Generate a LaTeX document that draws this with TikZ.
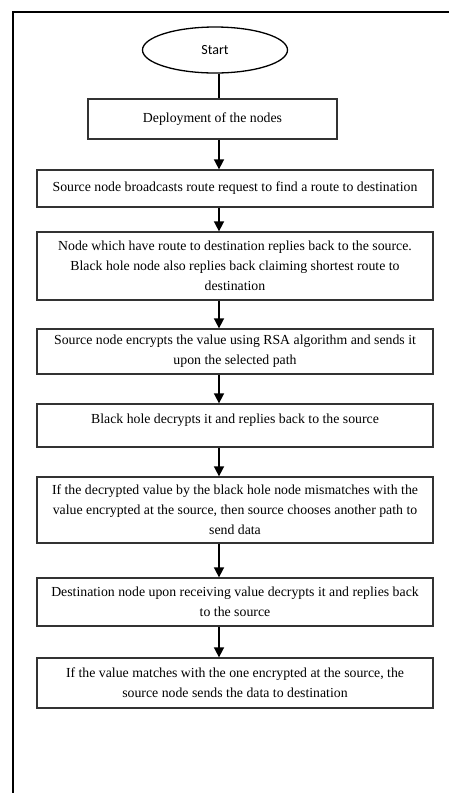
\documentclass[tikz,border=0pt]{standalone}
\usepackage{fontspec}
\setmainfont{Liberation Serif}
\newfontfamily\startfont{Carlito}
\usetikzlibrary{arrows.meta, shapes.geometric}

\begin{document}
\begin{tikzpicture}[
  x=1pt, y=-1pt,
  every node/.style={inner sep=0pt, font=\fontsize{13.8}{20}\selectfont},
  frame/.style={line width=2.2pt, black},
  terminal/.style={draw, ellipse, line width=1.3pt, minimum width=145pt, minimum height=46pt, font=\startfont\fontsize{14}{16}\selectfont},
  stepbox/.style={draw=black!80, line width=1.3pt, rectangle, align=center, minimum width=396pt},
  arr/.style={-{Triangle[length=10pt, width=10pt]}, line width=1.6pt},
  link/.style={line width=1.6pt}
]
\useasboundingbox (0,0) rectangle (449,793);
\draw[frame] (13,793) -- (13,12) -- (449,12);

\coordinate (spine) at (219,0);

\node[terminal] (start) at (215,50) {Start};
\node[stepbox, minimum width=249pt, minimum height=40pt] (b1) at (212.5,119) {Deployment of the nodes};
\node[stepbox, minimum height=37pt] (b2) at (235,188.5)
  {Source node broadcasts route request to find a route to destination};
\node[stepbox, minimum height=68pt] (b3) at (235,266)
  {Node which have route to destination replies back to the source.\\
   Black hole node also replies back claiming shortest route to\\
   destination};
\node[stepbox, minimum height=45pt] (b4) at (235,351.5)
  {Source node encrypts the value using RSA algorithm and sends it\\
   upon the selected path};
\node[stepbox, minimum height=43pt, text depth=14pt] (b5) at (235,425.5)
  {Black hole decrypts it and replies back to the source};
\node[stepbox, minimum height=66pt] (b6) at (235,510)
  {If the decrypted value by the black hole node mismatches with the\\
   value encrypted at the source, then source chooses another path to\\
   send data};
\node[stepbox, minimum height=48pt] (b7) at (235,602)
  {Destination node upon receiving value decrypts it and replies back\\
   to the source};
\node[stepbox, minimum height=50pt] (b8) at (235,683)
  {If the value matches with the one encrypted at the source, the\\
   source node sends the data to destination};

\draw[link] (start.south -| spine) -- (b1.north -| spine);
\draw[arr] (b1.south -| spine) -- (b2.north -| spine);
\draw[arr] (b2.south -| spine) -- (b3.north -| spine);
\draw[arr] (b3.south -| spine) -- (b4.north -| spine);
\draw[arr] (b4.south -| spine) -- (b5.north -| spine);
\draw[arr] (b5.south -| spine) -- (b6.north -| spine);
\draw[arr] (b6.south -| spine) -- (b7.north -| spine);
\draw[arr] (b7.south -| spine) -- (b8.north -| spine);
\end{tikzpicture}
\end{document}
